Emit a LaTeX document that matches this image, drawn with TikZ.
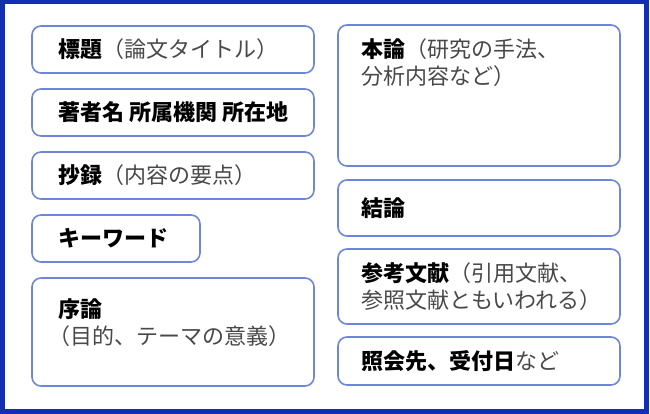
\documentclass[tikz,border=0pt]{standalone}
\usepackage{fontspec}
\setmainfont{Noto Sans CJK JP}
\usepackage{tikz}
\newcommand{\negrita}[1]{\textbf{#1}}
\newcommand{\gris}[1]{{\color{textogris}#1}}
\usetikzlibrary{positioning}
\definecolor{marcoazul}{RGB}{18,46,178}
\definecolor{bordeazul}{RGB}{110,134,216}
\definecolor{textogris}{RGB}{72,72,72}
\tikzstyle{caja} = [draw=bordeazul, line width=1.6pt, rectangle, rounded corners=9pt, inner sep=0pt, outer sep=0pt, minimum width=282pt, anchor=north west]
\tikzstyle{etiqueta} = [anchor=west, align=left, inner sep=0pt, font=\fontsize{22}{27}\selectfont]

\begin{document}
\begin{tikzpicture}[x=1pt, y=-1pt]
	\useasboundingbox (0,0) rectangle (650,414);
	\draw[marcoazul, line width=4.5pt] (2.25,2.25) rectangle (646.5,411.5);
	% columna izquierda
	\node[caja, minimum height=47pt] (titulo) at (32,26) {};
	\node[caja, minimum height=47pt, below=16pt of titulo] (autores) {};
	\node[caja, minimum height=47pt, below=16pt of autores] (resumen) {};
	\node[caja, minimum width=168pt, minimum height=47pt, below=16pt of resumen.south west, anchor=north west] (claves) {};
	\node[caja, minimum height=108pt, below=16pt of claves.south west, anchor=north west] (intro) {};
	% columna derecha
	\node[caja, minimum height=141pt] (cuerpo) at (338,25) {};
	\node[caja, minimum height=56pt, below=14pt of cuerpo] (conclusion) {};
	\node[caja, minimum height=75pt, below=13pt of conclusion] (referencias) {};
	\node[caja, minimum height=48pt, below=13pt of referencias] (contacto) {};
	% textos
	\node[etiqueta] at ([xshift=26pt]titulo.west) {\negrita{標題}\gris{（論文タイトル）}};
	\node[etiqueta] at ([xshift=26pt]autores.west) {\negrita{著者名 所属機関 所在地}};
	\node[etiqueta] at ([xshift=26pt]resumen.west) {\negrita{抄録}\gris{（内容の要点）}};
	\node[etiqueta] at ([xshift=26pt]claves.west) {\negrita{キーワード}};
	\node[etiqueta, anchor=north west] at ([xshift=26pt, yshift=-20pt]intro.north west) {\negrita{序論}\\\gris{\hspace*{-0.45em}（目的、テーマの意義）}};
	\node[etiqueta, anchor=north west] at ([xshift=23pt, yshift=-13pt]cuerpo.north west) {\negrita{本論}\gris{（研究の手法、}\\\gris{分析内容など）}};
	\node[etiqueta] at ([xshift=23pt]conclusion.west) {\negrita{結論}};
	\node[etiqueta] at ([xshift=23pt]referencias.west) {\negrita{参考文献}\gris{（引用文献、}\\\gris{参照文献ともいわれる）}};
	\node[etiqueta] at ([xshift=23pt]contacto.west) {\negrita{照会先、受付日}\gris{など}};
\end{tikzpicture}
\end{document}
